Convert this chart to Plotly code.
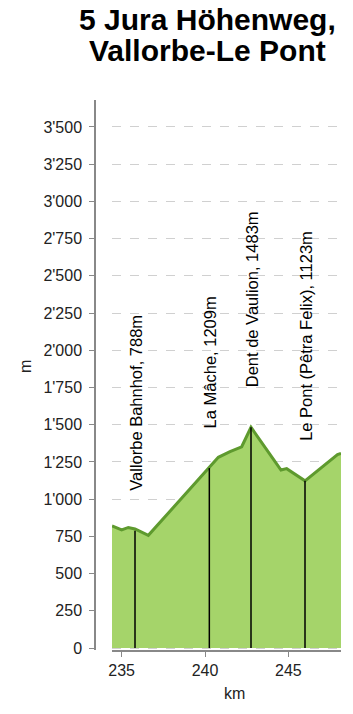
import plotly.graph_objects as go

# profile data
km = [234.42, 235.0, 235.4, 235.8, 236.6, 240.26, 240.8, 241.5, 242.2, 242.76,
      244.56, 244.9, 246.0, 247.95, 248.16]
elev = [820, 793, 810, 800, 757, 1209, 1281, 1319, 1352, 1483,
        1196, 1205, 1123, 1300, 1308]

# waypoints
wp_km = [235.8, 240.26, 242.76, 246.0]
wp_elev = [788, 1209, 1483, 1123]
wp_names = ["Vallorbe Bahnhof", "La Mâche", "Dent de Vaulion", "Le Pont (Pêtra Felix)"]

y_ticks = list(range(0, 3501, 250))
x_ticks = [235, 240, 245]

title_lines = ["5 Jura Höhenweg,", "Vallorbe-Le Pont"]

W, H = 353, 714
ML, MR, MT, MB = 95, 12, 100, 64
PLOT_H = H - MT - MB
PLOT_W = W - ML - MR

def px_x(px):
    return (px - ML) / PLOT_W

def px_y(py):
    return (H - MB - py) / PLOT_H

FONT = "Liberation Sans, Arial, sans-serif"

fig = go.Figure()

fig.add_trace(go.Scatter(
    x=km, y=elev, mode="lines", fill="tozeroy",
    fillcolor="#a5d46a", line=dict(color="#5e9a2e", width=3),
    hoverinfo="skip", showlegend=False))

vx, vy = [], []
for k, e in zip(wp_km, wp_elev):
    vx += [k, k, None]
    vy += [0, e, None]
fig.add_trace(go.Scatter(x=vx, y=vy, mode="lines",
                         line=dict(color="black", width=1.5),
                         hoverinfo="skip", showlegend=False))

annotations = []
for k, e, n in zip(wp_km, wp_elev, wp_names):
    annotations.append(dict(
        x=k, y=e, xref="x", yref="y", text=f"{n}, {e}m",
        showarrow=False, textangle=-90, xanchor="center", yanchor="bottom",
        yshift=38, xshift=1, font=dict(size=16.5, color="black", family=FONT)))

annotations.append(dict(x=px_x(207), y=px_y(20), xref="paper", yref="paper",
                        text=f"<b>{title_lines[0]}</b>", showarrow=False,
                        xanchor="center", yanchor="middle",
                        font=dict(size=30, color="black", family=FONT)))
annotations.append(dict(x=px_x(207), y=px_y(51), xref="paper", yref="paper",
                        text=f"<b>{title_lines[1]}</b>", showarrow=False,
                        xanchor="center", yanchor="middle",
                        font=dict(size=30, color="black", family=FONT)))
annotations.append(dict(x=px_x(25), y=px_y(367), xref="paper", yref="paper",
                        text="m", showarrow=False, textangle=-90,
                        xanchor="center", yanchor="middle",
                        font=dict(size=16, color="#222", family=FONT)))
annotations.append(dict(x=px_x(234), y=px_y(693), xref="paper", yref="paper",
                        text="km", showarrow=False,
                        xanchor="center", yanchor="middle",
                        font=dict(size=16, color="#222", family=FONT)))

fig.update_layout(
    width=W, height=H,
    margin=dict(l=ML, r=MR, t=MT, b=MB),
    paper_bgcolor="white", plot_bgcolor="white",
    separators=".'",
    font=dict(family=FONT, size=16, color="#222"),
    annotations=annotations,
    xaxis=dict(range=[234.42, 248.16], domain=[px_x(112), 1],
               tickvals=x_ticks, ticks="outside", ticklen=5, tickcolor="#888",
               showline=True, linecolor="#888", linewidth=1.5,
               showgrid=False, zeroline=False,
               tickfont=dict(size=16, color="#222", family=FONT)),
    yaxis=dict(range=[-13, 3681], anchor="free", position=0,
               tickvals=y_ticks, tickformat=",d", ticks="outside", ticklen=5,
               tickcolor="#888", showline=True, linecolor="#888", linewidth=1.5,
               showgrid=True, gridcolor="#d0d0d0", griddash="dash", gridwidth=1,
               zeroline=False, ticklabelstandoff=4,
               tickfont=dict(size=16, color="#222", family=FONT)),
)

fig.write_html("out.html")
